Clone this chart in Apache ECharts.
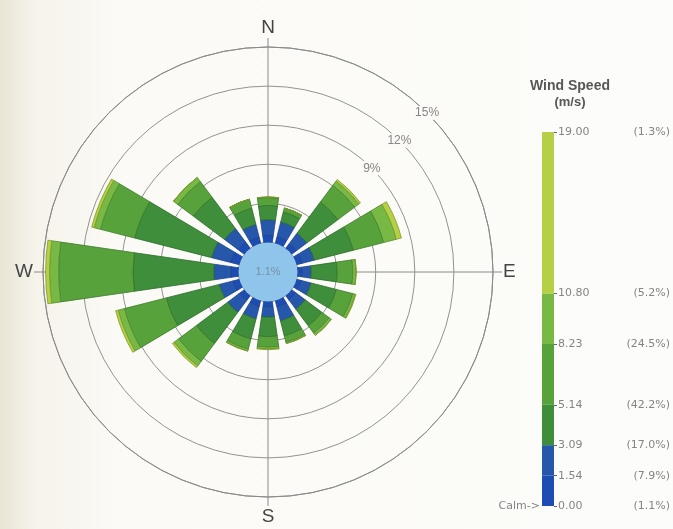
<!DOCTYPE html>
<html>
<head>
<meta charset="utf-8">
<script src="https://cdn.jsdelivr.net/npm/echarts@6/dist/echarts.min.js"></script>
<style>
  html, body { margin: 0; padding: 0; background: #fbfaf6; }
  #chart { width: 673px; height: 529px; }
</style>
</head>
<body>
<div id="chart"></div>
<script>
// Wind directions, clockwise from north
const directions = ['N', 'NNE', 'NE', 'ENE', 'E', 'ESE', 'SE', 'SSE', 'S', 'SSW', 'SW', 'WSW', 'W', 'WNW', 'NW', 'NNW'];

// Frequency (%) of each wind-speed class per direction
const speed0to154    = [0.55, 0.55, 0.45, 0.45, 0.35, 0.35, 0.40, 0.50, 0.40, 0.45, 0.50, 0.50, 0.60, 0.70, 0.60, 0.50];
const speed154to309  = [1.20, 1.15, 1.00, 0.95, 0.70, 0.80, 0.90, 1.10, 0.80, 1.00, 1.10, 1.10, 1.30, 1.50, 1.30, 1.00];
const speed309to514  = [1.10, 0.80, 3.00, 3.10, 2.00, 2.00, 1.60, 1.20, 1.50, 1.60, 3.00, 4.20, 6.20, 6.10, 3.00, 1.30];
const speed514to823  = [0.60, 0.30, 1.60, 2.40, 1.20, 1.30, 0.70, 0.50, 0.80, 0.80, 1.70, 3.30, 5.70, 2.70, 1.50, 0.70];
const speed823to1080 = [0.05, 0.00, 0.40, 1.00, 0.25, 0.20, 0.20, 0.10, 0.15, 0.15, 0.45, 0.50, 0.70, 0.50, 0.40, 0.00];
const speed1080to19  = [0.00, 0.00, 0.15, 0.40, 0.00, 0.05, 0.00, 0.00, 0.05, 0.00, 0.15, 0.20, 0.30, 0.20, 0.00, 0.00];

const calmPercent = 1.1;

const speedClasses = ['0.00 - 1.54', '1.54 - 3.09', '3.09 - 5.14', '5.14 - 8.23', '8.23 - 10.80', '10.80 - 19.00'];
const classColors  = ['#1d4cb3', '#2657ab', '#3e8e3b', '#58a23c', '#78b844', '#b5d045'];
const classBorders = ['#173d92', '#1d468f', '#2c6a2b', '#3c7a2c', '#4f8a2e', '#7f9a2c'];

// Colour-bar scale: class bounds (m/s) and share of observations
const legendBounds = [0, 1.54, 3.09, 5.14, 8.23, 10.80, 19.00];
const legendShares = ['1.1%', '7.9%', '17.0%', '42.2%', '24.5%', '5.2%', '1.3%'];

// Percentage rings that carry a label
const ringTicks = [9, 12, 15];
const compassLabels = { 0: 'N', 90: 'E', 180: 'S', 270: 'W' };

const classData = [speed0to154, speed154to309, speed309to514, speed514to823, speed823to1080, speed1080to19];

const CENTER = [268, 272];
const RADIUS = [29.5, 225];
const gridGray = '#8a8a8a';
const labelGray = '#858585';

const roseSeries = classData.map((values, i) => ({
  type: 'bar',
  name: speedClasses[i],
  coordinateSystem: 'polar',
  polarIndex: 0,
  stack: 'rose',
  data: values,
  barCategoryGap: '27%',
  silent: true,
  z: 3,
  itemStyle: { color: classColors[i], borderColor: classBorders[i], borderWidth: 0.8 }
}));

const scaleSeries = classData.map((_, i) => ({
  type: 'bar',
  name: speedClasses[i],
  xAxisIndex: 0,
  yAxisIndex: 0,
  stack: 'scale',
  barWidth: '100%',
  silent: true,
  data: [legendBounds[i + 1] - legendBounds[i]],
  itemStyle: { color: classColors[i] }
}));

const calmSeries = {
  type: 'pie',
  center: CENTER,
  radius: [0, RADIUS[0]],
  silent: true,
  z: 6,
  data: [{ value: calmPercent, name: 'Calm' }],
  itemStyle: { color: '#8fc5ea', borderWidth: 0 },
  label: {
    position: 'center',
    formatter: '{c}%',
    color: '#7891a6',
    fontSize: 11,
    fontFamily: 'Liberation Sans'
  },
  labelLine: { show: false }
};

const option = {
  animation: false,
  backgroundColor: {
    type: 'linear', x: 0, y: 0, x2: 1, y2: 0,
    colorStops: [
      { offset: 0, color: '#e8e5d4' },
      { offset: 0.05, color: '#f5f3ea' },
      { offset: 0.18, color: '#fbfaf6' },
      { offset: 1, color: '#fcfcfa' }
    ]
  },
  title: {
    text: 'Wind Speed',
    subtext: '(m/s)',
    left: 565,
    top: 74,
    textAlign: 'center',
    itemGap: 3,
    textStyle: { fontSize: 14, fontWeight: 'bold', color: '#575757', fontFamily: 'Liberation Sans' },
    subtextStyle: { fontSize: 13, fontWeight: 'bold', color: '#575757', fontFamily: 'Liberation Sans' }
  },
  polar: [
    { center: CENTER, radius: RADIUS },
    { center: CENTER, radius: RADIUS },
    { center: CENTER, radius: RADIUS }
  ],
  angleAxis: [
    {
      polarIndex: 0, type: 'category', data: directions,
      startAngle: 90 + 360 / directions.length / 2, clockwise: true,
      axisLine: { show: false }, axisTick: { show: false },
      axisLabel: { show: false }, splitLine: { show: false }
    },
    {
      polarIndex: 1, type: 'value', min: 0, max: 360, interval: 90,
      startAngle: 90, clockwise: true,
      axisLine: { lineStyle: { color: gridGray, width: 1 } },
      axisTick: { show: true, inside: false, length: 9, lineStyle: { color: gridGray, width: 1 } },
      axisLabel: {
        margin: 10,
        formatter: v => compassLabels[v] || '',
        fontSize: 19,
        color: '#454545',
        fontFamily: 'Liberation Sans'
      },
      splitLine: { show: true, lineStyle: { color: gridGray, width: 1 } }
    },
    { polarIndex: 2, type: 'value', min: 0, max: 360, startAngle: 45, show: false }
  ],
  radiusAxis: [
    { polarIndex: 0, type: 'value', min: 0, max: 15, show: false },
    {
      polarIndex: 1, type: 'value', min: 0, max: 15, interval: 3,
      axisLine: { show: false }, axisTick: { show: false }, axisLabel: { show: false },
      splitLine: { show: true, lineStyle: { color: '#939393', width: 1 } }
    },
    {
      polarIndex: 2, type: 'value', min: 0, max: 15, interval: 3,
      axisLine: { show: false }, axisTick: { show: false }, splitLine: { show: false },
      z: 10,
      axisLabel: {
        customValues: ringTicks,
        margin: 0,
        align: 'center',
        verticalAlign: 'middle',
        formatter: v => v + '%',
        color: labelGray,
        fontSize: 12,
        fontFamily: 'Liberation Sans',
        backgroundColor: '#fbfaf6',
        padding: [1, 2]
      }
    }
  ],
  grid: { left: 542, top: 132, width: 12, height: 374 },
  xAxis: { type: 'category', data: [''], show: false },
  yAxis: [
    {
      type: 'value', min: 0, max: 19, position: 'right',
      axisLine: { show: false }, splitLine: { show: false },
      axisTick: { show: true, customValues: legendBounds, length: 3, lineStyle: { color: '#666' } },
      axisLabel: {
        customValues: legendBounds,
        margin: 4,
        formatter: v => {
          const i = legendBounds.findIndex(b => Math.abs(b - v) < 1e-6);
          return '{v|' + v.toFixed(2) + '}{p|(' + legendShares[i] + ')}';
        },
        rich: {
          v: { width: 42, align: 'left', fontSize: 11, color: labelGray, fontFamily: 'DejaVu Sans' },
          p: { width: 70, align: 'right', fontSize: 11, color: labelGray, fontFamily: 'DejaVu Sans' }
        }
      }
    },
    {
      type: 'value', min: 0, max: 19, position: 'left',
      axisLine: { show: false }, splitLine: { show: false }, axisTick: { show: false },
      axisLabel: {
        customValues: [0],
        margin: 2,
        formatter: () => 'Calm->',
        fontSize: 11,
        color: labelGray,
        fontFamily: 'DejaVu Sans'
      }
    }
  ],
  series: [...roseSeries, ...scaleSeries, calmSeries]
};

const chart = echarts.init(document.getElementById('chart'), null, { renderer: 'canvas' });
chart.setOption(option);
</script>
</body>
</html>
